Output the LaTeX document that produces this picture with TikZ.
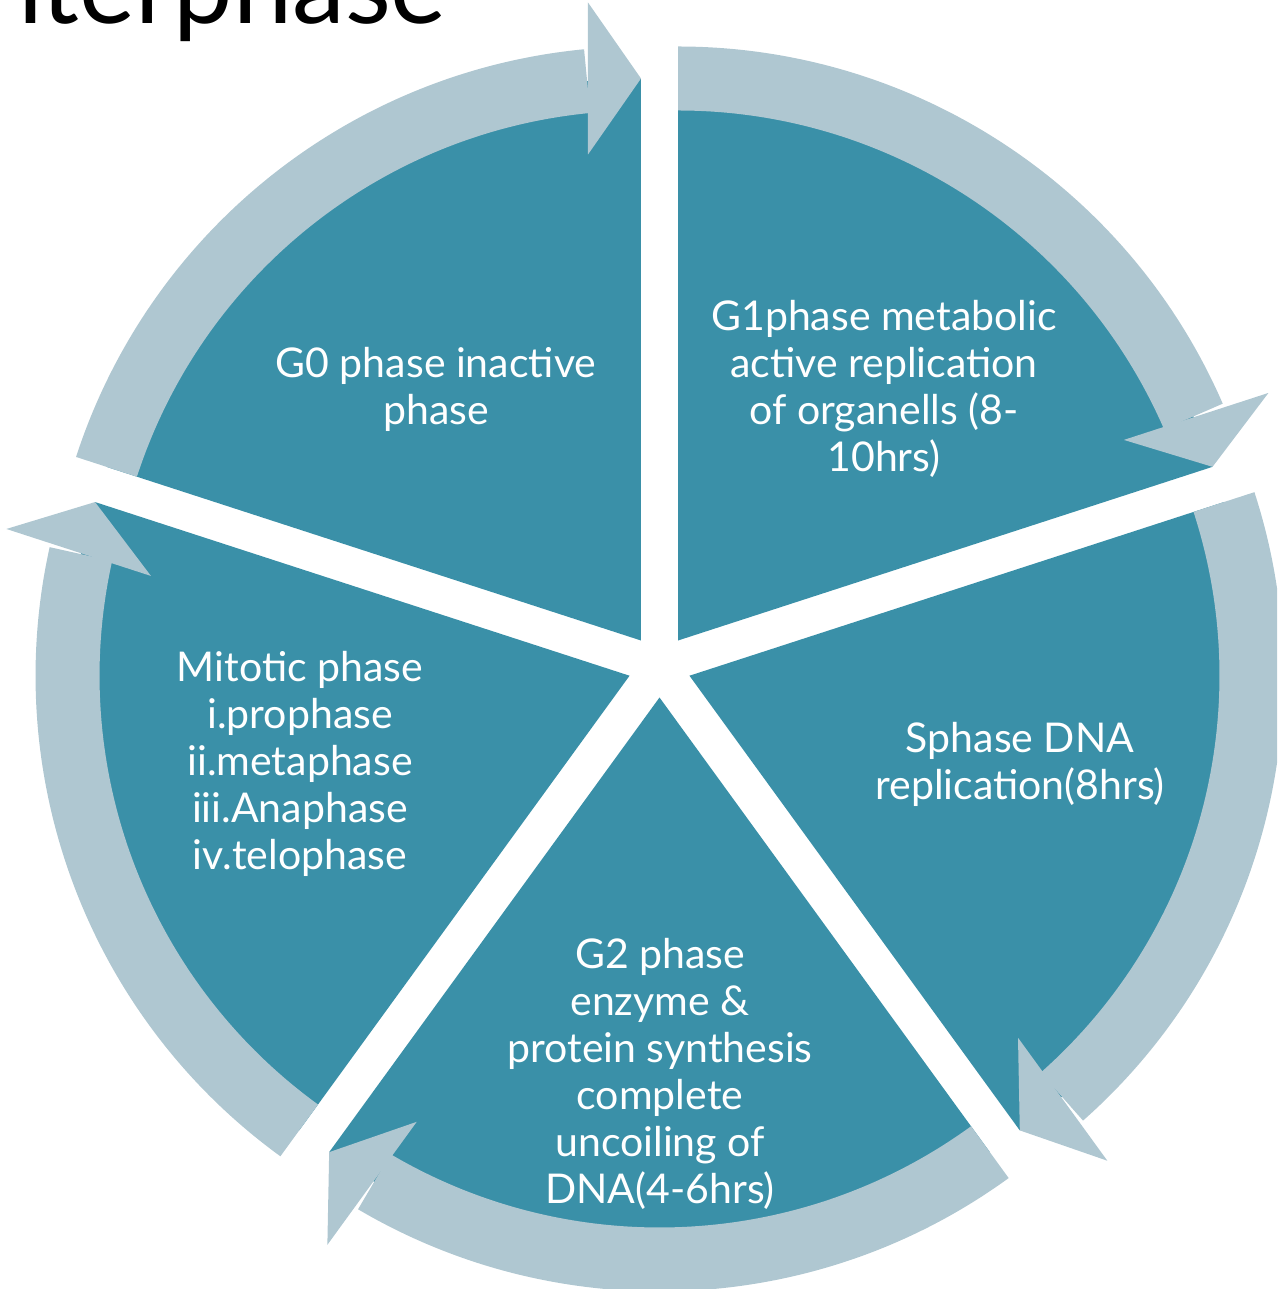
\documentclass[tikz,border=0pt]{standalone}
\usepackage{fontspec}
\setmainfont{Lato}
\usepackage{tikz}
\definecolor{cyclefill}{RGB}{58,144,168}
\definecolor{ringfill}{RGB}{175,199,209}
\tikzset{
  wedge/.style   ={fill=cyclefill},
  ringarc/.style ={fill=ringfill},
  lbl/.style     ={text=white,align=center,inner sep=0pt,font=\fontsize{41}{47}\selectfont},
  title/.style   ={inner sep=0pt,font=\fontsize{106}{120}\selectfont},
}

\begin{document}
\begin{tikzpicture}[x=1pt,y=1pt]
  \clip (0,0) rectangle (1277,1289);
  \useasboundingbox (0,0) rectangle (1277,1289);
  \coordinate (ctr) at (659.5,623);
  \node[title,anchor=base east] (inter) at (447,1265) {Interphase};
  \foreach \a/\m in {90/126,18/54,-54/-18,-126/-90,162/198}{
    \begin{scope}[shift={(ctr)},shift={(\m:31.5)},rotate=\a]
      \fill[wedge] (0,0) -- (0:562) arc[start angle=0,end angle=72,radius=562] -- cycle;
      \fill[ringarc] (72:530) arc[start angle=72,end angle=5.5,radius=530]
         -- (5.5:594) arc[start angle=5.5,end angle=72,radius=594] -- cycle;
      \fill[ringarc] (562,0) -- (486,53) -- (638,53) -- cycle;
    \end{scope}
  }
  \node[lbl] (gzero) at (436,899.5) {G0 phase inactive\\phase};
  \node[lbl] (gone) at (884,900) {G1phase metabolic\\active replication\\of organells (8-\\10hrs)};
  \node[lbl] (sphase) at (1020,524.5) {Sphase DNA\\replication(8hrs)};
  \node[lbl] (gtwo) at (660,215) {G2 phase\\enzyme \&\\protein synthesis\\complete\\uncoiling of\\DNA(4-6hrs)};
  \node[lbl] (mitotic) at (300,525) {Mitotic phase\\i.prophase\\ii.metaphase\\iii.Anaphase\\iv.telophase};
\end{tikzpicture}
\end{document}
